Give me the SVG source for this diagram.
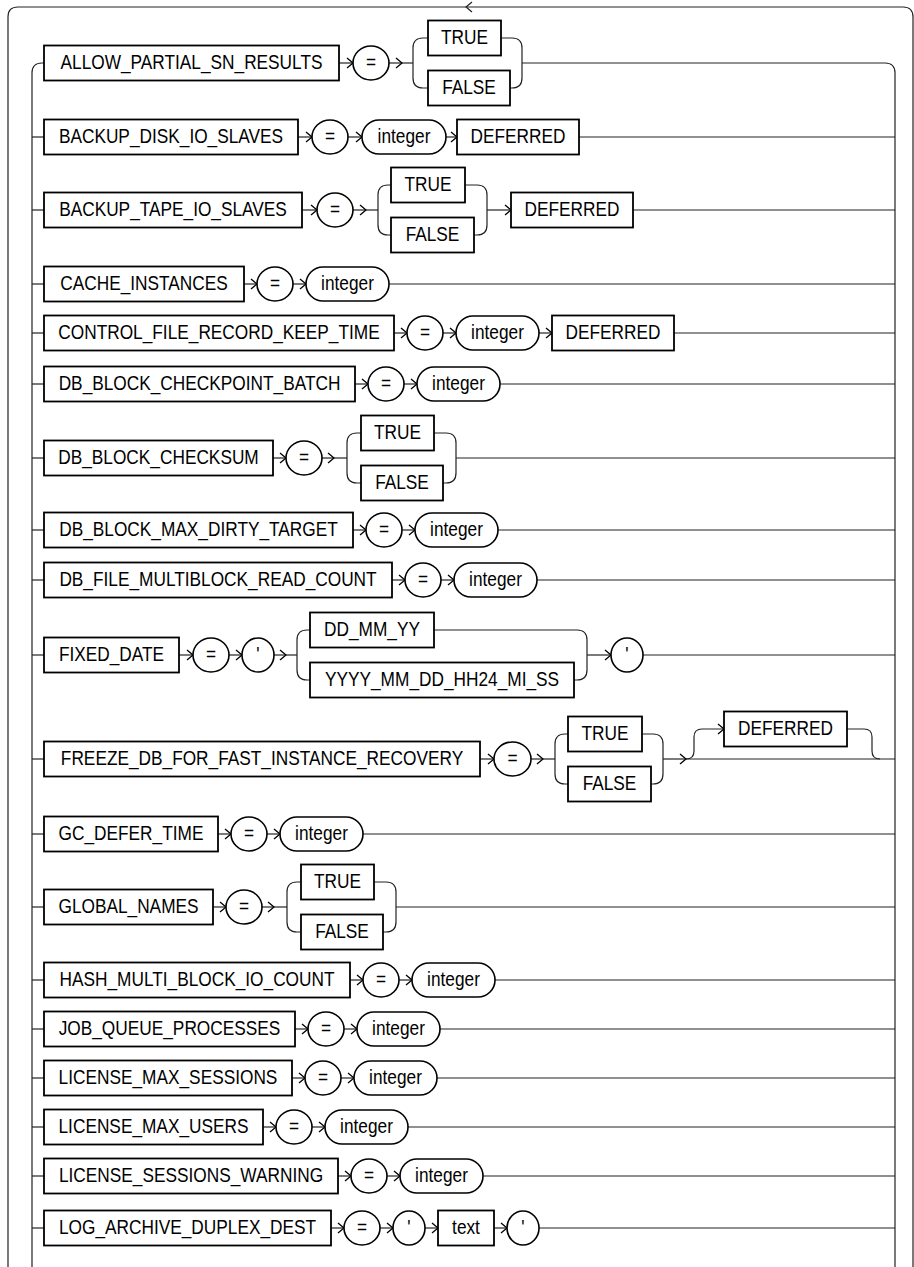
<svg xmlns="http://www.w3.org/2000/svg" width="914" height="1267" viewBox="0 0 914 1267">
<defs>
<style>
.b{fill:#fff;stroke:#000;stroke-width:1.8}
.c{fill:#fff;stroke:#000;stroke-width:1.6}
.l{fill:none;stroke:#222;stroke-width:1.2}
.a{fill:none;stroke:#222;stroke-width:1.2;marker-end:url(#ar)}
text{font-family:"Liberation Sans",Arial,sans-serif;font-size:20px;fill:#000;text-anchor:middle}
</style>
<marker id="ar" markerUnits="userSpaceOnUse" markerWidth="10" markerHeight="12" viewBox="0 0 10 12" refX="8" refY="6" orient="auto">
<path d="M2,1 L8,6 L2,11" fill="none" stroke="#000" stroke-width="1.3"/>
</marker>
</defs>
<rect width="914" height="1267" fill="#fff"/>
<g id="connectors">
<path class="l" d="M8,1267 V17 Q8,7 18,7 H903 Q913,7 913,17 V1267"/>
<path class="l" d="M472,2 L466,7 L472,12"/>
<path class="l" d="M32,1267 V73 Q32,63 42,63 H44"/>
<path class="l" d="M522,63 H885 Q895,63 895,73 V1267"/>
<!-- row1 -->
<path class="a" d="M339,63 H353"/>
<path class="a" d="M389,63 H402"/><path class="l" d="M402,63 H413"/>
<path class="l" d="M428,38 H423 Q413,38 413,48 V78 Q413,88 423,88 H428"/>
<path class="l" d="M501,38 H512 Q522,38 522,48 V78 Q522,88 512,88 H510"/>
<!-- row2 -->
<path class="l" d="M32,137 H44"/>
<path class="a" d="M298,137 H312"/><path class="a" d="M348,137 H362"/><path class="a" d="M446,137 H457"/>
<path class="l" d="M579,137 H895"/>
<!-- row3 -->
<path class="l" d="M32,210 H44"/>
<path class="a" d="M302,210 H317"/>
<path class="a" d="M353,210 H366"/><path class="l" d="M366,210 H378"/>
<path class="l" d="M391,185 H388 Q378,185 378,195 V225 Q378,235 388,235 H391"/>
<path class="l" d="M465,185 H477 Q487,185 487,195 V225 Q487,235 477,235 H474"/>
<path class="a" d="M487,210 H511"/>
<path class="l" d="M633,210 H895"/>
<!-- row4 -->
<path class="l" d="M32,284 H44"/>
<path class="a" d="M244,284 H257"/><path class="a" d="M293,284 H306"/>
<path class="l" d="M389,284 H895"/>
<!-- row5 -->
<path class="l" d="M32,333 H44"/>
<path class="a" d="M394,333 H407"/><path class="a" d="M443,333 H456"/><path class="a" d="M539,333 H552"/>
<path class="l" d="M674,333 H895"/>
<!-- row6 -->
<path class="l" d="M32,384 H44"/>
<path class="a" d="M355,384 H368"/><path class="a" d="M404,384 H417"/>
<path class="l" d="M500,384 H895"/>
<!-- row7 -->
<path class="l" d="M32,458 H44"/>
<path class="a" d="M273,458 H286"/>
<path class="a" d="M322,458 H334"/><path class="l" d="M334,458 H347"/>
<path class="l" d="M361,433 H357 Q347,433 347,443 V473 Q347,483 357,483 H361"/>
<path class="l" d="M434,433 H446 Q456,433 456,443 V473 Q456,483 446,483 H443"/>
<path class="l" d="M456,458 H895"/>
<!-- row8 -->
<path class="l" d="M32,530 H44"/>
<path class="a" d="M353,530 H366"/><path class="a" d="M402,530 H415"/>
<path class="l" d="M498,530 H895"/>
<!-- row9 -->
<path class="l" d="M32,580 H44"/>
<path class="a" d="M392,580 H405"/><path class="a" d="M441,580 H454"/>
<path class="l" d="M537,580 H895"/>
<!-- row10 -->
<path class="l" d="M32,655 H44"/>
<path class="a" d="M179,655 H193"/><path class="a" d="M229,655 H242"/>
<path class="a" d="M274,655 H286"/><path class="l" d="M286,655 H297"/>
<path class="l" d="M310,630 H307 Q297,630 297,640 V670 Q297,680 307,680 H310"/>
<path class="l" d="M434,630 H577 Q587,630 587,640 V670 Q587,680 577,680 H574"/>
<path class="a" d="M587,655 H611"/>
<path class="l" d="M643,655 H895"/>
<!-- row11 -->
<path class="l" d="M32,759 H44"/>
<path class="a" d="M480,759 H494"/>
<path class="a" d="M531,759 H543"/><path class="l" d="M543,759 H555"/>
<path class="l" d="M568,734 H565 Q555,734 555,744 V774 Q555,784 565,784 H568"/>
<path class="l" d="M642,734 H653 Q663,734 663,744 V774 Q663,784 653,784 H651"/>
<path class="a" d="M663,759 H686"/><path class="l" d="M686,759 H895"/>
<path class="a" d="M686,759 Q694,759 694,751 V737 Q694,729 702,729 H724"/>
<path class="l" d="M847,729 H864 Q872,729 872,737 V751 Q872,759 880,759"/>
<!-- row12 -->
<path class="l" d="M32,834 H44"/>
<path class="a" d="M218,834 H231"/><path class="a" d="M267,834 H280"/>
<path class="l" d="M363,834 H895"/>
<!-- row13 -->
<path class="l" d="M32,907 H44"/>
<path class="a" d="M213,907 H226"/>
<path class="a" d="M262,907 H274"/><path class="l" d="M274,907 H287"/>
<path class="l" d="M301,882 H297 Q287,882 287,892 V922 Q287,932 297,932 H301"/>
<path class="l" d="M374,882 H386 Q396,882 396,892 V922 Q396,932 386,932 H383"/>
<path class="l" d="M396,907 H895"/>
<!-- row14 -->
<path class="l" d="M32,980 H44"/>
<path class="a" d="M350,980 H363"/><path class="a" d="M399,980 H412"/>
<path class="l" d="M495,980 H895"/>
<!-- row15 -->
<path class="l" d="M32,1029 H44"/>
<path class="a" d="M295,1029 H308"/><path class="a" d="M344,1029 H357"/>
<path class="l" d="M440,1029 H895"/>
<!-- row16 -->
<path class="l" d="M32,1078 H44"/>
<path class="a" d="M292,1078 H305"/><path class="a" d="M341,1078 H354"/>
<path class="l" d="M437,1078 H895"/>
<!-- row17 -->
<path class="l" d="M32,1127 H44"/>
<path class="a" d="M263,1127 H276"/><path class="a" d="M312,1127 H325"/>
<path class="l" d="M408,1127 H895"/>
<!-- row18 -->
<path class="l" d="M32,1176 H44"/>
<path class="a" d="M338,1176 H351"/><path class="a" d="M387,1176 H400"/>
<path class="l" d="M483,1176 H895"/>
<!-- row19 -->
<path class="l" d="M32,1228 H44"/>
<path class="a" d="M331,1228 H344"/><path class="a" d="M380,1228 H393"/><path class="a" d="M425,1228 H438"/><path class="a" d="M494,1228 H507"/>
<path class="l" d="M539,1228 H895"/>
</g>

<!-- Row 1 -->
<g id="allow_partial_sn_results"><rect class="b" x="44" y="45.5" width="295" height="35"/><text transform="translate(191.5,69) scale(.864,1)">ALLOW_PARTIAL_SN_RESULTS</text></g>
<g id="eq1"><ellipse class="c" cx="371" cy="63" rx="18" ry="17"/><text transform="translate(371,69) scale(.864,1)">=</text></g>
<g id="true1"><rect class="b" x="428" y="20.5" width="73" height="35"/><text transform="translate(464.5,44) scale(.864,1)">TRUE</text></g>
<g id="false1"><rect class="b" x="428" y="70.5" width="82" height="35"/><text transform="translate(469,94) scale(.864,1)">FALSE</text></g>

<!-- Row 2 -->
<g id="backup_disk_io_slaves"><rect class="b" x="44" y="119.5" width="254" height="35"/><text transform="translate(171,143) scale(.864,1)">BACKUP_DISK_IO_SLAVES</text></g>
<g id="eq2"><ellipse class="c" cx="330" cy="137" rx="18" ry="17"/><text transform="translate(330,143) scale(.864,1)">=</text></g>
<g id="int2"><rect class="c" x="362" y="120" width="84" height="34" rx="17"/><text transform="translate(404,143) scale(.864,1)">integer</text></g>
<g id="def2"><rect class="b" x="457" y="119.5" width="122" height="35"/><text transform="translate(518,143) scale(.864,1)">DEFERRED</text></g>

<!-- Row 3 -->
<g id="backup_tape_io_slaves"><rect class="b" x="44" y="192.5" width="258" height="35"/><text transform="translate(173,216) scale(.864,1)">BACKUP_TAPE_IO_SLAVES</text></g>
<g id="eq3"><ellipse class="c" cx="335" cy="210" rx="18" ry="17"/><text transform="translate(335,216) scale(.864,1)">=</text></g>
<g id="true3"><rect class="b" x="391" y="167.5" width="74" height="35"/><text transform="translate(428,191) scale(.864,1)">TRUE</text></g>
<g id="false3"><rect class="b" x="391" y="217.5" width="83" height="35"/><text transform="translate(432.5,241) scale(.864,1)">FALSE</text></g>
<g id="def3"><rect class="b" x="511" y="192.5" width="122" height="35"/><text transform="translate(572,216) scale(.864,1)">DEFERRED</text></g>

<!-- Row 4 -->
<g id="cache_instances"><rect class="b" x="44" y="266.5" width="200" height="35"/><text transform="translate(144,290) scale(.864,1)">CACHE_INSTANCES</text></g>
<g id="eq4"><ellipse class="c" cx="275" cy="284" rx="18" ry="17"/><text transform="translate(275,290) scale(.864,1)">=</text></g>
<g id="int4"><rect class="c" x="306" y="267" width="83" height="34" rx="17"/><text transform="translate(347.5,290) scale(.864,1)">integer</text></g>

<!-- Row 5 -->
<g id="control_file_record_keep_time"><rect class="b" x="44" y="315.5" width="350" height="35"/><text transform="translate(219,339) scale(.864,1)">CONTROL_FILE_RECORD_KEEP_TIME</text></g>
<g id="eq5"><ellipse class="c" cx="425" cy="333" rx="18" ry="17"/><text transform="translate(425,339) scale(.864,1)">=</text></g>
<g id="int5"><rect class="c" x="456" y="316" width="83" height="34" rx="17"/><text transform="translate(497.5,339) scale(.864,1)">integer</text></g>
<g id="def5"><rect class="b" x="552" y="315.5" width="122" height="35"/><text transform="translate(613,339) scale(.864,1)">DEFERRED</text></g>

<!-- Row 6 -->
<g id="db_block_checkpoint_batch"><rect class="b" x="44" y="366.5" width="311" height="35"/><text transform="translate(199.5,390) scale(.864,1)">DB_BLOCK_CHECKPOINT_BATCH</text></g>
<g id="eq6"><ellipse class="c" cx="386" cy="384" rx="18" ry="17"/><text transform="translate(386,390) scale(.864,1)">=</text></g>
<g id="int6"><rect class="c" x="417" y="367" width="83" height="34" rx="17"/><text transform="translate(458.5,390) scale(.864,1)">integer</text></g>

<!-- Row 7 -->
<g id="db_block_checksum"><rect class="b" x="44" y="440.5" width="229" height="35"/><text transform="translate(158.5,464) scale(.864,1)">DB_BLOCK_CHECKSUM</text></g>
<g id="eq7"><ellipse class="c" cx="304" cy="458" rx="18" ry="17"/><text transform="translate(304,464) scale(.864,1)">=</text></g>
<g id="true7"><rect class="b" x="361" y="415.5" width="73" height="35"/><text transform="translate(397.5,439) scale(.864,1)">TRUE</text></g>
<g id="false7"><rect class="b" x="361" y="465.5" width="82" height="35"/><text transform="translate(402,489) scale(.864,1)">FALSE</text></g>

<!-- Row 8 -->
<g id="db_block_max_dirty_target"><rect class="b" x="44" y="512.5" width="309" height="35"/><text transform="translate(198.5,536) scale(.864,1)">DB_BLOCK_MAX_DIRTY_TARGET</text></g>
<g id="eq8"><ellipse class="c" cx="384" cy="530" rx="18" ry="17"/><text transform="translate(384,536) scale(.864,1)">=</text></g>
<g id="int8"><rect class="c" x="415" y="513" width="83" height="34" rx="17"/><text transform="translate(456.5,536) scale(.864,1)">integer</text></g>

<!-- Row 9 -->
<g id="db_file_multiblock_read_count"><rect class="b" x="44" y="562.5" width="348" height="35"/><text transform="translate(218,586) scale(.864,1)">DB_FILE_MULTIBLOCK_READ_COUNT</text></g>
<g id="eq9"><ellipse class="c" cx="423" cy="580" rx="18" ry="17"/><text transform="translate(423,586) scale(.864,1)">=</text></g>
<g id="int9"><rect class="c" x="454" y="563" width="83" height="34" rx="17"/><text transform="translate(495.5,586) scale(.864,1)">integer</text></g>

<!-- Row 10 -->
<g id="fixed_date"><rect class="b" x="44" y="637.5" width="135" height="35"/><text transform="translate(111.5,661) scale(.864,1)">FIXED_DATE</text></g>
<g id="eq10"><ellipse class="c" cx="211" cy="655" rx="18" ry="17"/><text transform="translate(211,661) scale(.864,1)">=</text></g>
<g id="q10a"><ellipse class="c" cx="258" cy="655" rx="16" ry="17"/><text transform="translate(258,661) scale(.864,1)">'</text></g>
<g id="dd_mm_yy"><rect class="b" x="310" y="612.5" width="124" height="35"/><text transform="translate(372,636) scale(.864,1)">DD_MM_YY</text></g>
<g id="yyyy_mm_dd_hh24_mi_ss"><rect class="b" x="310" y="662.5" width="264" height="35"/><text transform="translate(442,686) scale(.864,1)">YYYY_MM_DD_HH24_MI_SS</text></g>
<g id="q10b"><ellipse class="c" cx="627" cy="655" rx="16" ry="17"/><text transform="translate(627,661) scale(.864,1)">'</text></g>

<!-- Row 11 -->
<g id="freeze_db_for_fast_instance_recovery"><rect class="b" x="44" y="741.5" width="436" height="35"/><text transform="translate(262,765) scale(.864,1)">FREEZE_DB_FOR_FAST_INSTANCE_RECOVERY</text></g>
<g id="eq11"><ellipse class="c" cx="512.5" cy="759" rx="18.5" ry="17"/><text transform="translate(512.5,765) scale(.864,1)">=</text></g>
<g id="true11"><rect class="b" x="568" y="716.5" width="74" height="35"/><text transform="translate(605,740) scale(.864,1)">TRUE</text></g>
<g id="false11"><rect class="b" x="568" y="766.5" width="83" height="35"/><text transform="translate(609.5,790) scale(.864,1)">FALSE</text></g>
<g id="def11"><rect class="b" x="724" y="711.5" width="123" height="35"/><text transform="translate(785.5,735) scale(.864,1)">DEFERRED</text></g>

<!-- Row 12 -->
<g id="gc_defer_time"><rect class="b" x="44" y="816.5" width="174" height="35"/><text transform="translate(131,840) scale(.864,1)">GC_DEFER_TIME</text></g>
<g id="eq12"><ellipse class="c" cx="249" cy="834" rx="18" ry="17"/><text transform="translate(249,840) scale(.864,1)">=</text></g>
<g id="int12"><rect class="c" x="280" y="817" width="83" height="34" rx="17"/><text transform="translate(321.5,840) scale(.864,1)">integer</text></g>

<!-- Row 13 -->
<g id="global_names"><rect class="b" x="44" y="889.5" width="169" height="35"/><text transform="translate(128.5,913) scale(.864,1)">GLOBAL_NAMES</text></g>
<g id="eq13"><ellipse class="c" cx="244" cy="907" rx="18" ry="17"/><text transform="translate(244,913) scale(.864,1)">=</text></g>
<g id="true13"><rect class="b" x="301" y="864.5" width="73" height="35"/><text transform="translate(337.5,888) scale(.864,1)">TRUE</text></g>
<g id="false13"><rect class="b" x="301" y="914.5" width="82" height="35"/><text transform="translate(342,938) scale(.864,1)">FALSE</text></g>

<!-- Row 14 -->
<g id="hash_multi_block_io_count"><rect class="b" x="44" y="962.5" width="306" height="35"/><text transform="translate(197,986) scale(.864,1)">HASH_MULTI_BLOCK_IO_COUNT</text></g>
<g id="eq14"><ellipse class="c" cx="381" cy="980" rx="18" ry="17"/><text transform="translate(381,986) scale(.864,1)">=</text></g>
<g id="int14"><rect class="c" x="412" y="963" width="83" height="34" rx="17"/><text transform="translate(453.5,986) scale(.864,1)">integer</text></g>

<!-- Row 15 -->
<g id="job_queue_processes"><rect class="b" x="44" y="1011.5" width="251" height="35"/><text transform="translate(169.5,1035) scale(.864,1)">JOB_QUEUE_PROCESSES</text></g>
<g id="eq15"><ellipse class="c" cx="326" cy="1029" rx="18" ry="17"/><text transform="translate(326,1035) scale(.864,1)">=</text></g>
<g id="int15"><rect class="c" x="357" y="1012" width="83" height="34" rx="17"/><text transform="translate(398.5,1035) scale(.864,1)">integer</text></g>

<!-- Row 16 -->
<g id="license_max_sessions"><rect class="b" x="44" y="1060.5" width="248" height="35"/><text transform="translate(168,1084) scale(.864,1)">LICENSE_MAX_SESSIONS</text></g>
<g id="eq16"><ellipse class="c" cx="323" cy="1078" rx="18" ry="17"/><text transform="translate(323,1084) scale(.864,1)">=</text></g>
<g id="int16"><rect class="c" x="354" y="1061" width="83" height="34" rx="17"/><text transform="translate(395.5,1084) scale(.864,1)">integer</text></g>

<!-- Row 17 -->
<g id="license_max_users"><rect class="b" x="44" y="1109.5" width="219" height="35"/><text transform="translate(153.5,1133) scale(.864,1)">LICENSE_MAX_USERS</text></g>
<g id="eq17"><ellipse class="c" cx="294" cy="1127" rx="18" ry="17"/><text transform="translate(294,1133) scale(.864,1)">=</text></g>
<g id="int17"><rect class="c" x="325" y="1110" width="83" height="34" rx="17"/><text transform="translate(366.5,1133) scale(.864,1)">integer</text></g>

<!-- Row 18 -->
<g id="license_sessions_warning"><rect class="b" x="44" y="1158.5" width="294" height="35"/><text transform="translate(191,1182) scale(.864,1)">LICENSE_SESSIONS_WARNING</text></g>
<g id="eq18"><ellipse class="c" cx="369" cy="1176" rx="18" ry="17"/><text transform="translate(369,1182) scale(.864,1)">=</text></g>
<g id="int18"><rect class="c" x="400" y="1159" width="83" height="34" rx="17"/><text transform="translate(441.5,1182) scale(.864,1)">integer</text></g>

<!-- Row 19 -->
<g id="log_archive_duplex_dest"><rect class="b" x="44" y="1210.5" width="287" height="35"/><text transform="translate(187.5,1234) scale(.864,1)">LOG_ARCHIVE_DUPLEX_DEST</text></g>
<g id="eq19"><ellipse class="c" cx="362" cy="1228" rx="18" ry="17"/><text transform="translate(362,1234) scale(.864,1)">=</text></g>
<g id="q19a"><ellipse class="c" cx="409" cy="1228" rx="16" ry="17"/><text transform="translate(409,1234) scale(.864,1)">'</text></g>
<g id="text19"><rect class="b" x="438" y="1210.5" width="56" height="35"/><text transform="translate(466,1234) scale(.864,1)">text</text></g>
<g id="q19b"><ellipse class="c" cx="523" cy="1228" rx="16" ry="17"/><text transform="translate(523,1234) scale(.864,1)">'</text></g>
</svg>
